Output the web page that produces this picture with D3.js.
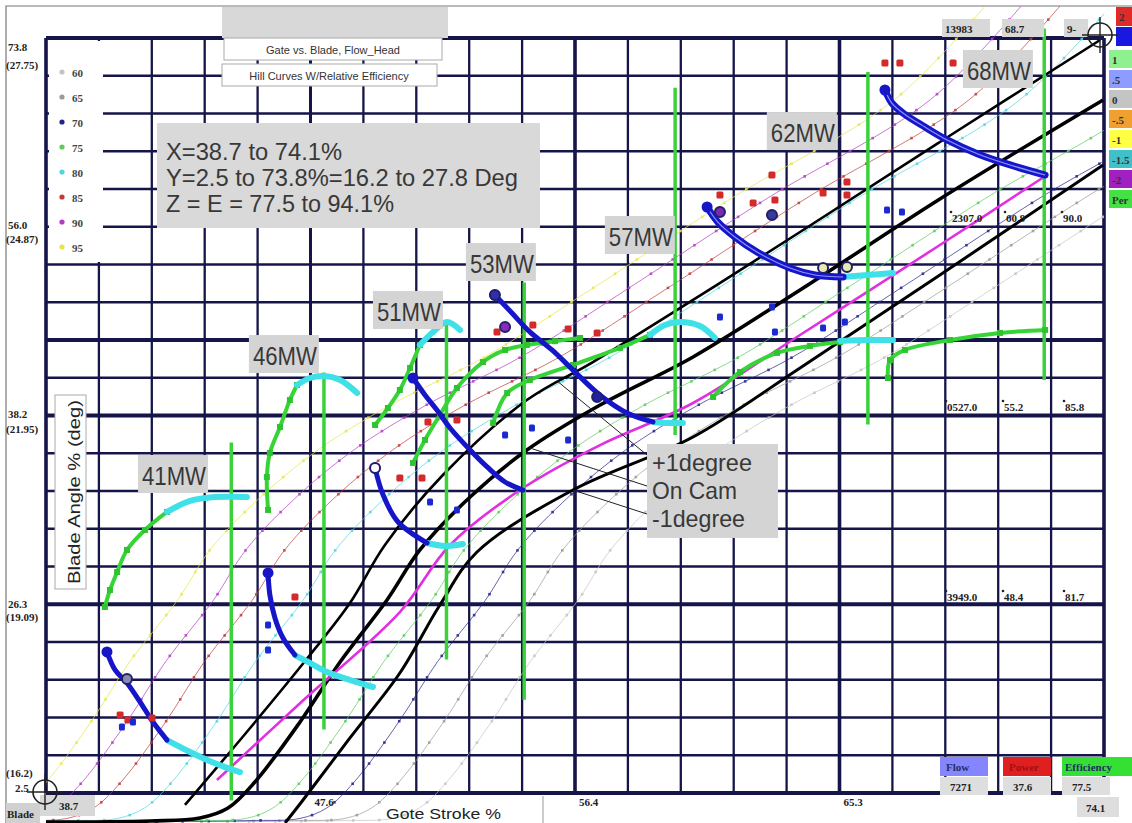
<!DOCTYPE html>
<html lang="en">
<head>
  <meta charset="utf-8" />
  <title>Gate vs. Blade, Flow_Head - Hill Curves</title>
  <script src="https://d3js.org/d3.v7.min.js"></script>
  <style>
    html, body { margin: 0; padding: 0; background: #fff; }
    svg { display: block; }
    .small { font-family: "Liberation Serif", "DejaVu Serif", serif; font-weight: bold; font-size: 11px; fill: #222; }
    .big { font-family: "Liberation Sans", Arial, sans-serif; fill: #383838; }
    .btn { font-family: "Liberation Sans", Arial, sans-serif; font-size: 11px; fill: #333; }
  </style>
</head>
<body>
<svg id="chart" width="1132" height="823"></svg>
<script>
  // axes: gate stroke % (x) and blade angle % (y)
  const gateRange = [38.7, 74.1];
  const bladeRange = [2.5, 73.8];
  const gateTickLabels = ["47.6", "56.4", "65.3"];
  const gateTickValues = [47.55, 56.4, 65.25];
  const bladeTickPct = ["73.8", "56.0", "38.2", "26.3", "2.5"];
  const bladeTickDeg = ["(27.75)", "(24.87)", "(21.95)", "(19.09)", "(16.2)"];
  const bladeTickValues = [73.8, 56.0, 38.2, 20.3, 2.5];

  // relative efficiency contours (shared blade points, one gate array per level)
  const effLevels = [60, 65, 70, 75, 80, 85, 90, 95];
  const effColors = ["#c4c4c4", "#9a9a9a", "#23238c", "#5ccc5c", "#4fd6e0", "#c03c3c", "#b43cc4", "#e6e64a"];
  const contourBlade = [-0.2, -0.1, 0.1, 1.1, 3.5, 9.2, 14.9, 20.7, 25.5, 30.5, 34.9, 39.1, 43.7, 50.0, 58.6, 68.0, 77.4];
  const eff60Gate = [45.1, 48.6, 50.3, 51.2, 52.1, 53.6, 54.9, 56.5, 57.6, 59.3, 61.2, 63.6, 66.8, 70.3, 75.0, 80.5, 83.7];
  const eff65Gate = [43.5, 47.0, 48.7, 49.6, 50.5, 52.0, 53.3, 54.9, 56.0, 57.7, 59.6, 62.0, 65.2, 68.7, 73.4, 78.9, 82.1];
  const eff70Gate = [42.0, 45.5, 47.2, 48.1, 49.0, 50.5, 51.8, 53.4, 54.5, 56.2, 58.1, 60.5, 63.7, 67.2, 71.9, 77.4, 80.6];
  const eff75Gate = [40.2, 43.7, 45.4, 46.3, 47.2, 48.7, 50.0, 51.6, 52.7, 54.4, 56.3, 58.7, 61.9, 65.4, 70.1, 75.6, 78.8];
  const eff80Gate = [35.9, 39.4, 41.1, 42.0, 42.9, 44.4, 45.7, 47.3, 48.4, 50.1, 52.0, 54.4, 57.6, 61.1, 65.8, 71.3, 74.5];
  const eff85Gate = [34.2, 37.7, 39.4, 40.3, 41.2, 42.7, 44.0, 45.6, 46.7, 48.4, 50.3, 52.7, 55.9, 59.4, 64.1, 69.6, 72.8];
  const eff90Gate = [32.9, 36.4, 38.1, 39.0, 39.9, 41.4, 42.7, 44.3, 45.4, 47.1, 49.0, 51.4, 54.6, 58.1, 62.8, 68.3, 71.5];
  const eff95Gate = [31.7, 35.2, 36.9, 37.8, 38.7, 40.2, 41.5, 43.1, 44.2, 45.9, 47.8, 50.2, 53.4, 56.9, 61.6, 67.1, 70.3];

  // cam curves: +1 degree, on cam, -1 degree, and measured (magenta)
  const camPlusGate = [43.35, 45.53, 47.53, 48.87, 50.04, 51.98, 54.79, 57.0, 60.35, 63.93, 68.61, 73.97];
  const camPlusBlade = [1.37, 8.64, 15.53, 20.44, 25.92, 32.53, 39.61, 43.2, 49.06, 55.48, 63.98, 73.61];
  const camOnGate = [38.7, 42.18, 43.85, 44.79, 45.69, 47.2, 48.54, 50.11, 51.21, 52.89, 54.79, 57.24, 60.35, 63.93, 68.61, 74.07];
  const camOnBlade = [-0.24, -0.14, 0.14, 1.08, 3.54, 9.21, 14.87, 20.73, 25.45, 30.45, 34.89, 39.14, 43.68, 50.0, 58.6, 67.95];
  const camMinusGate = [46.7, 47.3, 48.87, 50.54, 51.88, 53.12, 56.33, 60.35, 63.93, 68.61, 74.07];
  const camMinusBlade = [-0.33, 1.84, 7.7, 13.83, 20.25, 25.26, 31.11, 36.12, 42.64, 51.42, 61.81];
  const measGate = [44.42, 47.2, 50.54, 52.22, 54.66, 57.24, 60.35, 63.93, 68.61, 72.19];
  const measBlade = [3.73, 10.98, 19.59, 25.92, 31.3, 35.36, 39.33, 45.75, 54.25, 60.86];

  // power levels
  const mwNames = ["41MW", "46MW", "51MW", "53MW", "57MW", "62MW", "68MW"];
  const mwGate = [44.9, 48.0, 52.1, 54.7, 59.75, 66.2, 72.1];
  const mwTop = [35.6, 42.2, 46.9, 50.7, 69.1, 70.6, 74.7];
  const mwBottom = [1.8, 8.5, 15.1, 11.3, 36.3, 37.3, 41.5];
  const mwLabelGate = [42.95, 46.66, 50.81, 53.92, 58.57, 63.99, 70.55];
  const mwLabelBlade = [32.53, 43.86, 48.02, 52.55, 55.1, 64.92, 70.78];

  // hill traces per power level [gate, blade]
  const blue41 = [[40.74, 15.82], [41.01, 14.12], [41.41, 12.89], [41.85, 11.09], [42.28, 9.2], [42.75, 7.5]];
  const cyanLow41 = [[42.75, 7.5], [43.52, 6.37], [44.09, 5.62], [44.69, 4.95], [45.19, 4.48]];
  const green41 = [[40.67, 20.07], [40.84, 21.67], [41.08, 23.37], [41.41, 25.45], [42.01, 27.34], [42.75, 29.04]];
  const cyanHigh41 = [[42.75, 29.04], [43.52, 30.08], [44.35, 30.45], [45.42, 30.45]];
  const blue46 = [[46.13, 23.28], [46.19, 21.2], [46.36, 19.03], [46.63, 17.14], [47.03, 15.53]];
  const cyanLow46 = [[47.03, 15.53], [47.53, 14.78], [48.1, 13.93], [48.87, 13.17], [49.64, 12.51]];
  const green46 = [[46.13, 29.23], [46.09, 32.34], [46.19, 34.61], [46.53, 37.06], [46.86, 39.61], [47.1, 41.03]];
  const cyanHigh46 = [[47.1, 41.03], [47.53, 41.69], [47.97, 41.88], [48.54, 41.5], [49.11, 40.27]];
  const blue51 = [[49.71, 33.19], [49.98, 30.64], [50.48, 28.09], [51.45, 26.11]];
  const cyanLow51 = [[51.45, 26.11], [52.05, 25.83], [52.65, 26.02]];
  const green51 = [[49.71, 37.25], [50.14, 38.86], [50.54, 40.56], [50.88, 42.64], [51.21, 44.81]];
  const cyanHigh51 = [[51.21, 44.81], [51.65, 46.04], [52.12, 46.98], [52.55, 46.23]];
  const blue53 = [[50.98, 41.69], [51.38, 40.09], [51.78, 38.67], [52.22, 36.97], [52.89, 34.89], [53.46, 33.29], [54.06, 31.87], [54.66, 31.11]];
  const green53 = [[50.98, 33.67], [51.38, 35.84], [51.88, 38.2], [52.45, 40.75], [53.32, 43.2], [54.06, 44.34], [54.79, 44.81], [55.73, 45.17], [56.57, 45.47]];
  const blue57 = [[53.72, 49.53], [54.29, 47.83], [54.89, 46.04], [55.63, 44.34], [56.4, 42.26], [57.23, 40.09], [58.14, 38.39], [59.01, 37.54]];
  const cyanLow57 = [[59.01, 37.54], [59.51, 37.44], [60.01, 37.44]];
  const green57 = [[53.66, 37.44], [54.13, 40.27], [54.89, 41.5], [56.33, 42.92], [57.9, 44.53], [58.91, 45.76]];
  const cyanHigh57 = [[58.91, 45.76], [59.41, 46.7], [59.91, 46.98], [60.58, 46.6], [61.08, 45.47]];
  const blue62 = [[60.82, 57.84], [61.18, 56.42], [61.75, 55.01], [62.49, 53.59], [63.59, 52.08], [64.43, 51.42], [65.37, 51.23]];
  const cyanLow62 = [[65.37, 51.23], [66.2, 51.42], [67.04, 51.61]];
  const green62 = [[61.02, 39.9], [61.92, 42.26], [63.16, 44.06], [64.26, 44.72], [65.27, 45.09]];
  const cyanHigh62 = [[65.27, 45.19], [66.2, 45.28], [67.04, 45.28]];
  const blue68 = [[66.77, 68.89], [67.0, 67.66], [67.37, 66.72], [68.11, 65.39], [68.85, 64.17], [69.88, 62.85], [70.96, 61.81], [72.13, 60.86]];
  const green68 = [[66.87, 41.69], [66.94, 43.39], [67.44, 44.34], [68.95, 45.28], [70.62, 45.95], [72.13, 46.23]];

  // scattered test points
  const powerPtGate = [41.18, 41.44, 42.25, 47.03, 50.54, 51.28, 51.48, 52.45, 53.79, 54.99, 56.17, 57.14, 61.25, 62.36, 62.99, 63.09, 64.7, 65.5, 65.5, 66.77, 67.27, 69.05];
  const powerPtBlade = [9.87, 9.39, 9.58, 21.01, 32.25, 32.25, 37.54, 37.73, 46.04, 46.7, 46.32, 45.94, 58.97, 58.22, 60.86, 58.5, 59.16, 60.2, 58.97, 71.44, 71.44, 71.44];
  const flowPtGate = [41.24, 41.61, 46.13, 46.13, 51.55, 52.45, 54.06, 54.96, 56.17, 61.25, 62.99, 63.09, 64.7, 65.43, 66.84, 67.34];
  const flowPtBlade = [8.73, 9.2, 18.37, 16.0, 29.98, 29.23, 36.31, 36.97, 35.84, 47.45, 48.4, 46.04, 46.41, 46.98, 57.56, 57.37];
  const ringGate = [41.41, 54.06, 57.14, 61.25, 62.99, 49.71, 53.72, 64.7, 65.5];
  const ringBlade = [13.27, 46.51, 39.9, 57.37, 57.09, 33.19, 49.53, 52.08, 52.18];
  const ringFill = ["#8a8ab0", "#8a2ab8", "#2020a0", "#7a2ab0", "#3a3a9a", "#ffffff", "#3030a8", "#e8e8b0", "#e8e8b0"];

  // side legends and readouts
  const devLabels = ["2", "1.5", "1", ".5", "0", "-.5", "-1", "-1.5", "-2", "Per"];
  const devColors = ["#e02a2a", "#1818e0", "#8ff08f", "#8f9cff", "#c4c4c4", "#f0a030", "#ffff44", "#40c0c8", "#a020c0", "#44e044"];
  const readoutRows = [["13983", "68.7", "9-"], ["2307.0", "60.9", "90.0"], ["0527.0", "55.2", "85.8"], ["3949.0", "48.4", "81.7"]];
  const bottomNames = ["Flow", "Power", "Efficiency"];
  const bottomValues = ["7271", "37.6", "77.5"];
  const bottomColors = ["#8585ff", "#e02020", "#33e033"];

  const svg = d3.select("#chart");
  const x = d3.scaleLinear().domain(gateRange).range([46, 1104]);
  const y = d3.scaleLinear().domain(bladeRange).range([793, 38]);
  const gridColor = "#15154a";

  svg.append("rect").attr("width", 1132).attr("height", 823).attr("fill", "#fff");
  svg.append("path").attr("d", "M6,823V6H1132").attr("fill", "none").attr("stroke", "#777").attr("stroke-width", 1.2);

  svg.append("clipPath").attr("id", "plot")
    .append("rect").attr("x", 46).attr("y", 6).attr("width", 1058).attr("height", 817);

  // grid, 20 x 20 cells
  const nDiv = 20;
  const gStep = (gateRange[1] - gateRange[0]) / nDiv;
  const bStep = (bladeRange[1] - bladeRange[0]) / nDiv;
  const grid = svg.append("g");
  d3.range(nDiv + 1).forEach(i => {
    const gx = x(gateRange[0] + i * gStep);
    const w = [0, 10, 15, 20].includes(i) ? 3.6 : (i === 5 ? 3 : 2.3);
    grid.append("line").attr("x1", gx).attr("x2", gx).attr("y1", y(bladeRange[1])).attr("y2", y(bladeRange[0]))
      .attr("stroke", gridColor).attr("stroke-width", w);
  });
  d3.range(nDiv + 1).forEach(i => {
    const gy = y(bladeRange[1] - i * bStep);
    const w = [0, 8, 10, 15, 20].includes(i) ? 4 : 2.3;
    grid.append("line").attr("x1", x(gateRange[0])).attr("x2", x(gateRange[1])).attr("y1", gy).attr("y2", gy)
      .attr("stroke", gridColor).attr("stroke-width", w);
  });

  const curve = d3.line().x(d => x(d[0])).y(d => y(d[1])).curve(d3.curveCatmullRom);
  const plot = svg.append("g").attr("clip-path", "url(#plot)");

  // efficiency contours with small markers
  const effGates = [eff60Gate, eff65Gate, eff70Gate, eff75Gate, eff80Gate, eff85Gate, eff90Gate, eff95Gate];
  effGates.forEach((gates, k) => {
    const pts = gates.map((g, i) => [g, contourBlade[i]]);
    const p = plot.append("path").attr("d", curve(pts)).attr("fill", "none")
      .attr("stroke", effColors[k]).attr("stroke-width", 1).attr("opacity", 0.7);
    const node = p.node();
    const len = node.getTotalLength();
    for (let s = 12; s < len; s += 26) {
      const q = node.getPointAtLength(s);
      plot.append("rect").attr("x", q.x - 1.3).attr("y", q.y - 1.3).attr("width", 2.6).attr("height", 2.6)
        .attr("fill", effColors[k]).attr("opacity", 0.85);
    }
  });

  // cam lines
  const zip = (a, b) => a.map((v, i) => [v, b[i]]);
  plot.append("path").attr("d", curve(zip(camPlusGate, camPlusBlade))).attr("fill", "none").attr("stroke", "#000").attr("stroke-width", 2.6);
  plot.append("path").attr("d", curve(zip(camOnGate, camOnBlade))).attr("fill", "none").attr("stroke", "#000").attr("stroke-width", 3.6);
  plot.append("path").attr("d", curve(zip(camMinusGate, camMinusBlade))).attr("fill", "none").attr("stroke", "#000").attr("stroke-width", 3);
  plot.append("path").attr("d", curve(zip(measGate, measBlade))).attr("fill", "none").attr("stroke", "#e030e0").attr("stroke-width", 2.6);

  // power level traces
  const ops = svg.append("g").attr("clip-path", "url(#plot)");
  mwGate.forEach((g, i) => {
    ops.append("line").attr("x1", x(g)).attr("x2", x(g)).attr("y1", y(mwTop[i])).attr("y2", y(mwBottom[i]))
      .attr("stroke", "#3bd13b").attr("stroke-width", 3.5);
  });
  [green41, green46, green51, green53, green57, green62, green68].forEach(seg => {
    ops.append("path").attr("d", curve(seg)).attr("fill", "none").attr("stroke", "#36d436").attr("stroke-width", 4).attr("stroke-linecap", "round");
    seg.forEach(d => ops.append("rect").attr("x", x(d[0]) - 3).attr("y", y(d[1]) - 3).attr("width", 6).attr("height", 6).attr("fill", "#2fc42f"));
  });
  [cyanHigh41, cyanHigh46, cyanHigh51, cyanHigh57, cyanHigh62, cyanLow41, cyanLow46, cyanLow51, cyanLow57, cyanLow62].forEach(seg => {
    ops.append("path").attr("d", curve(seg)).attr("fill", "none").attr("stroke", "#3fe0e8").attr("stroke-width", 6).attr("stroke-linecap", "round");
  });
  [blue41, blue46, blue51, blue53, blue57, blue62, blue68].forEach((seg, k) => {
    ops.append("path").attr("d", curve(seg)).attr("fill", "none").attr("stroke", "#1616c8").attr("stroke-width", k >= 5 ? 7 : 5).attr("stroke-linecap", "round");
    if (k >= 5) {
      ops.append("path").attr("d", curve(seg)).attr("fill", "none").attr("stroke", "#8a94ff").attr("stroke-width", 1.2);
    }
    ops.append("circle").attr("cx", x(seg[0][0])).attr("cy", y(seg[0][1])).attr("r", 5.5).attr("fill", "#1616c8");
  });

  // scattered points
  powerPtGate.forEach((g, i) => ops.append("rect").attr("x", x(g) - 3.5).attr("y", y(powerPtBlade[i]) - 3.5)
    .attr("width", 7).attr("height", 7).attr("rx", 1.5).attr("fill", "#d42a2a"));
  flowPtGate.forEach((g, i) => ops.append("rect").attr("x", x(g) - 3).attr("y", y(flowPtBlade[i]) - 3.5)
    .attr("width", 6).attr("height", 7).attr("rx", 1.5).attr("fill", "#1a2ad0"));
  ringGate.forEach((g, i) => ops.append("circle").attr("cx", x(g)).attr("cy", y(ringBlade[i])).attr("r", 5)
    .attr("fill", ringFill[i]).attr("stroke", "#20206a").attr("stroke-width", 2));

  // top-left efficiency legend
  svg.append("rect").attr("x", 49).attr("y", 41).attr("width", 54).attr("height", 221).attr("fill", "#fff");
  effLevels.forEach((lv, i) => {
    const cy = 72 + i * 25;
    svg.append("circle").attr("cx", 62).attr("cy", cy).attr("r", 2.6).attr("fill", effColors[i]);
    svg.append("text").attr("class", "small").attr("x", 72).attr("y", cy + 5).attr("font-size", 12).style("fill", "#444").text(lv);
  });

  // blade axis labels
  const pctDy = [13, 3, 3, 3, -1];
  const degDy = [31, 17, 18, 16, -16];
  bladeTickValues.forEach((v, i) => {
    svg.append("text").attr("class", "small").attr("x", i === 4 ? 15 : 8).attr("y", y(v) + pctDy[i]).text(bladeTickPct[i]);
    svg.append("text").attr("class", "small").attr("x", 6).attr("y", y(v) + degDy[i]).text(bladeTickDeg[i]);
  });
  svg.append("rect").attr("x", 55).attr("y", 395).attr("width", 31).attr("height", 194)
    .attr("fill", "#fff").attr("stroke", "#aaa").attr("stroke-width", 1);
  svg.append("text").attr("class", "big").attr("transform", "translate(80,492) rotate(-90)")
    .attr("text-anchor", "middle").attr("font-size", 17).attr("textLength", 184).attr("lengthAdjust", "spacingAndGlyphs")
    .style("fill", "#222").text("Blade Angle % (deg)");

  // gate axis labels
  gateTickValues.forEach((v, i) => {
    svg.append("text").attr("class", "small").attr("x", x(v) + 4).attr("y", 806).text(gateTickLabels[i]);
  });
  svg.append("rect").attr("x", 6).attr("y", 803).attr("width", 34).attr("height", 20).attr("fill", "#d0d0d0");
  svg.append("text").attr("class", "small").attr("x", 7).attr("y", 818).text("Blade");
  svg.append("rect").attr("x", 40).attr("y", 795).attr("width", 55).attr("height", 21).attr("fill", "#d8d8d8");
  svg.append("text").attr("class", "small").attr("x", 59).attr("y", 810).text("38.7");
  svg.append("line").attr("x1", 543).attr("x2", 543).attr("y1", 796).attr("y2", 823).attr("stroke", "#999");
  svg.append("text").attr("class", "big").attr("x", 386).attr("y", 819).attr("font-size", 15)
    .attr("textLength", 115).attr("lengthAdjust", "spacingAndGlyphs").style("fill", "#222").text("Gote Stroke %");

  // title buttons
  svg.append("rect").attr("x", 222).attr("y", 7).attr("width", 226).attr("height", 31).attr("fill", "#d8d8d8");
  svg.append("rect").attr("x", 224).attr("y", 38).attr("width", 218).attr("height", 22).attr("fill", "#fff").attr("stroke", "#aaa");
  svg.append("text").attr("class", "btn").attr("x", 333).attr("y", 54).attr("text-anchor", "middle").text("Gate vs. Blade, Flow_Head");
  svg.append("rect").attr("x", 222).attr("y", 64).attr("width", 215).attr("height", 22).attr("fill", "#fff").attr("stroke", "#aaa");
  svg.append("text").attr("class", "btn").attr("x", 329).attr("y", 80).attr("text-anchor", "middle").text("Hill Curves W/Relative Efficiency");

  // range note
  svg.append("rect").attr("x", 157).attr("y", 123).attr("width", 383).attr("height", 105).attr("fill", "#d9d9d9");
  const noteLines = ["X=38.7 to 74.1%", "Y=2.5 to 73.8%=16.2 to 27.8 Deg", "Z = E = 77.5 to 94.1%"];
  const noteWidths = [176, 352, 228];
  noteLines.forEach((t, i) => {
    svg.append("text").attr("class", "big").attr("x", 166).attr("y", 160 + i * 26).attr("font-size", 23)
      .attr("textLength", noteWidths[i]).attr("lengthAdjust", "spacingAndGlyphs").text(t);
  });

  // MW labels
  mwNames.forEach((n, i) => {
    const cx = x(mwLabelGate[i]), cy = y(mwLabelBlade[i]);
    svg.append("rect").attr("x", cx - 35).attr("y", cy - 20).attr("width", 70).attr("height", 38).attr("fill", "#d4d4d4");
    svg.append("text").attr("class", "big").attr("x", cx - 31).attr("y", cy + 10).attr("font-size", 26)
      .attr("textLength", 64).attr("lengthAdjust", "spacingAndGlyphs").text(n);
  });

  // cam annotation with leaders
  const leaderGate = [55.8, 54.89, 56.33];
  const leaderBlade = [41.41, 35.08, 31.11];
  const leaderY = [455, 486, 514];
  leaderGate.forEach((g, i) => {
    svg.append("line").attr("x1", 647).attr("y1", leaderY[i]).attr("x2", x(g)).attr("y2", y(leaderBlade[i]))
      .attr("stroke", "#222").attr("stroke-width", 1);
  });
  svg.append("rect").attr("x", 647).attr("y", 444).attr("width", 131).attr("height", 94).attr("fill", "#d4d4d4");
  const camText = ["+1degree", "On Cam", "-1degree"];
  const camWidths = [100, 85, 93];
  camText.forEach((t, i) => {
    svg.append("text").attr("class", "big").attr("x", 652).attr("y", 471 + i * 28).attr("font-size", 24)
      .attr("textLength", camWidths[i]).attr("lengthAdjust", "spacingAndGlyphs").text(t);
  });

  // readouts inside the plot
  const readoutX = [[945, 1005, 1067], [952, 1006, 1063], [947, 1004, 1065], [947, 1004, 1065]];
  const readoutY = [33, 222, 411, 601];
  readoutRows.forEach((row, r) => {
    row.forEach((t, c) => {
      if (r === 0) {
        svg.append("rect").attr("x", readoutX[r][c] - 3).attr("y", 19).attr("width", c === 2 ? 24 : (c === 0 ? 48 : 42)).attr("height", 18).attr("fill", "#d8d8d8");
      } else {
        svg.append("circle").attr("cx", readoutX[r][c] - 1).attr("cy", readoutY[r] - 10).attr("r", 1.3).attr("fill", "#222");
      }
      svg.append("text").attr("class", "small").attr("x", readoutX[r][c]).attr("y", readoutY[r]).text(t);
    });
  });

  // deviation legend on the right edge
  devLabels.forEach((t, i) => {
    const top = i < 2 ? 7 + i * 20 : 50 + (i - 2) * 20;
    const left = i < 2 ? 1116 : 1109;
    svg.append("rect").attr("x", left).attr("y", top).attr("width", 1132 - left).attr("height", i < 2 ? 19 : 18).attr("fill", devColors[i]);
    svg.append("text").attr("class", "small").attr("x", left + 3).attr("y", top + 14).attr("font-size", 12)
      .style("fill", i === 1 ? "#1818e0" : "#333").text(t);
  });

  // bottom readout boxes
  const boxX = [940, 1003, 1062];
  bottomNames.forEach((n, i) => {
    svg.append("rect").attr("x", boxX[i]).attr("y", 757).attr("width", i === 2 ? 70 : 48).attr("height", 19).attr("fill", bottomColors[i]);
    svg.append("text").attr("class", "small").attr("x", boxX[i] + (i === 2 ? 3 : 6)).attr("y", 771)
      .style("fill", i === 1 ? "#a01010" : "#203060").text(n);
    svg.append("rect").attr("x", boxX[i]).attr("y", 777).attr("width", 48).attr("height", 18).attr("fill", "#dedede");
    svg.append("text").attr("class", "small").attr("x", boxX[i] + 10).attr("y", 791).text(bottomValues[i]);
  });
  svg.append("rect").attr("x", 1077).attr("y", 797).attr("width", 42).attr("height", 20).attr("fill", "#dedede");
  svg.append("text").attr("class", "small").attr("x", 1086).attr("y", 812).text("74.1");

  // cross-hair markers
  function crosshair(cx, cy) {
    svg.append("circle").attr("cx", cx).attr("cy", cy).attr("r", 12).attr("fill", "none").attr("stroke", "#222").attr("stroke-width", 1.6);
    svg.append("line").attr("x1", cx - 18).attr("x2", cx + 18).attr("y1", cy).attr("y2", cy).attr("stroke", "#222").attr("stroke-width", 1.4);
    svg.append("line").attr("x1", cx).attr("x2", cx).attr("y1", cy - 18).attr("y2", cy + 18).attr("stroke", "#222").attr("stroke-width", 1.4);
  }
  crosshair(1100, 35);
  crosshair(45, 792);
</script>
</body>
</html>
